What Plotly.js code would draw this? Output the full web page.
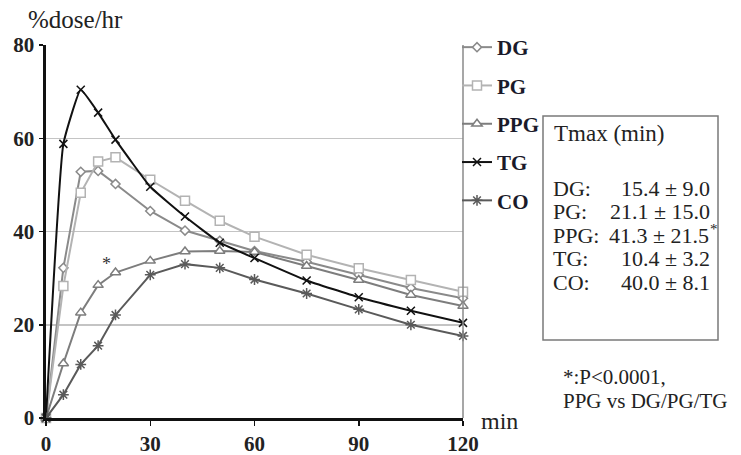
<!DOCTYPE html>
<html>
<head>
<meta charset="utf-8">
<script src="https://cdn.plot.ly/plotly-3.0.1.min.js"></script>
<style>html,body{margin:0;padding:0;background:#fff;}#chart{width:741px;height:455px;}</style>
</head>
<body>
<div id="chart"></div>
<script>
// ---- data ----
const timeMin = [0, 5, 10, 15, 20, 30, 40, 50, 60, 75, 90, 105, 120];
const seriesNames = ["DG", "PG", "PPG", "TG", "CO"];
const DG  = [0, 32.2, 52.8, 53.0, 50.2, 44.4, 40.2, 38.0, 35.8, 33.5, 30.7, 27.9, 25.7];
const PG  = [0, 28.3, 48.3, 55.0, 55.9, 51.1, 46.6, 42.3, 38.9, 35.0, 32.1, 29.6, 27.1];
const PPG = [0, 11.7, 22.6, 28.5, 31.2, 33.7, 35.7, 35.8, 35.6, 32.6, 29.6, 26.4, 24.0];
const TG  = [0, 58.8, 70.4, 65.5, 59.7, 49.6, 43.2, 37.6, 34.3, 29.5, 25.9, 23.0, 20.4];
const CO  = [0, 5.0, 11.5, 15.5, 22.1, 30.7, 33.0, 32.2, 29.7, 26.7, 23.3, 20.0, 17.6];
const xTicks = [0, 30, 60, 90, 120];
const yTicks = [0, 20, 40, 60, 80];
const tmaxLabels = ["DG:", "PG:", "PPG:", "TG:", "CO:"];
const tmaxValues = ["15.4 ± 9.0", "21.1 ± 15.0", "41.3 ± 21.5", "10.4 ± 3.2", "40.0 ± 8.1"];

const serif = '"Liberation Serif", "Times New Roman", Times, serif';

function trace(name, y, color, symbol, size, fill, shape, smoothing) {
  return {
    x: timeMin, y: y, name: name, type: "scatter", mode: "lines+markers",
    legendgroup: name,
    cliponaxis: false,
    line: {color: color, width: 2, shape: shape || "linear", smoothing: smoothing || 1},
    marker: {symbol: symbol, size: size, color: fill, line: {color: color, width: 1.5}}
  };
}

const data = [
  trace("DG", DG, "#8a8a8a", "diamond", 7, "#ffffff"),
  trace("PG", PG, "#b3b3b3", "square", 9, "#ffffff"),
  trace("PPG", PPG, "#7d7d7d", "triangle-up", 9, "#ffffff"),
  trace("TG", TG, "#111111", "x-thin-open", 8, "#111111", "spline", 0.35),
  trace("CO", CO, "#5a5a5a", "asterisk-open", 9, "#5a5a5a")
];

// pixel helpers (plot area: x 46..463, y 45..418)
const px = p => (p - 46) / 417;
const py = p => (418 - p) / 373;

const annotations = [
  {xref: "paper", yref: "paper", x: px(26), y: py(20), xanchor: "left", yanchor: "middle",
   text: "%dose/hr", showarrow: false, font: {family: serif, size: 25, color: "#222"}},
  {xref: "paper", yref: "paper", x: px(479), y: py(421), xanchor: "left", yanchor: "middle",
   text: "min", showarrow: false, font: {family: serif, size: 24, color: "#222"}},
  {xref: "x", yref: "y", x: 17.5, y: 33.0, xanchor: "center", yanchor: "middle",
   text: "*", showarrow: false, font: {family: serif, size: 18, color: "#333"}},
  {xref: "paper", yref: "paper", x: px(552), y: py(133), xanchor: "left", yanchor: "middle",
   text: "Tmax (min)", showarrow: false, font: {family: serif, size: 23, color: "#222"}},
  {xref: "paper", yref: "paper", x: px(561), y: py(377), xanchor: "left", yanchor: "middle",
   text: "*:P<0.0001,", showarrow: false, font: {family: serif, size: 21, color: "#222"}},
  {xref: "paper", yref: "paper", x: px(561), y: py(401), xanchor: "left", yanchor: "middle",
   text: "PPG vs DG/PG/TG", showarrow: false, font: {family: serif, size: 21, color: "#222"}},
  {xref: "paper", yref: "paper", x: px(708), y: py(229), xanchor: "left", yanchor: "middle",
   text: "*", showarrow: false, font: {family: serif, size: 15, color: "#222"}}
];
const rowY = [188, 211, 235, 258, 282];
tmaxLabels.forEach((lab, i) => {
  annotations.push({xref: "paper", yref: "paper", x: px(551), y: py(rowY[i]), xanchor: "left", yanchor: "middle",
    text: lab, showarrow: false, font: {family: serif, size: 22, color: "#222"}});
  annotations.push({xref: "paper", yref: "paper", x: px(i === 2 ? 711 : 712), y: py(rowY[i]), xanchor: "right", yanchor: "middle",
    text: tmaxValues[i], showarrow: false, font: {family: serif, size: 22, color: "#222"}});
});

const layout = {
  width: 741, height: 455,
  margin: {l: 46, r: 278, t: 45, b: 37},
  paper_bgcolor: "#ffffff", plot_bgcolor: "#ffffff",
  showlegend: true,
  legend: {x: px(457), y: py(27), xanchor: "left", yanchor: "top",
    font: {family: serif, size: 21, color: "#1a1a2a", weight: "bold"},
    bgcolor: "rgba(0,0,0,0)", borderwidth: 0, tracegroupgap: 8, itemwidth: 30},
  xaxis: {range: [0, 120], tickvals: xTicks, ticktext: xTicks.map(String),
    showgrid: false, zeroline: false, showline: true, linecolor: "#111", linewidth: 2.5,
    ticks: "outside", ticklen: 5, tickcolor: "#111", tickwidth: 1.5,
    tickfont: {family: serif, size: 21, color: "#222", weight: "bold"}, fixedrange: true},
  yaxis: {range: [0, 80], tickvals: yTicks, ticktext: yTicks.map(String),
    showgrid: true, gridcolor: "#c4c4c4", gridwidth: 1.5, zeroline: false,
    showline: true, linecolor: "#111", linewidth: 3.5,
    ticks: "outside", ticklen: 4, tickcolor: "#111", tickwidth: 1.5,
    tickfont: {family: serif, size: 21, color: "#222", weight: "bold"}, fixedrange: true},
  shapes: [
    {type: "line", xref: "paper", yref: "paper", x0: 1, x1: 1, y0: 0, y1: 1, line: {color: "#8a8a8a", width: 1.5}},
    {type: "rect", xref: "paper", yref: "paper", x0: px(543), x1: px(718), y0: py(340), y1: py(116),
     line: {color: "#7a7a7a", width: 1.5}, fillcolor: "rgba(0,0,0,0)"}
  ],
  annotations: annotations
};

Plotly.newPlot("chart", data, layout, {displayModeBar: false, staticPlot: true});
</script>
</body>
</html>
